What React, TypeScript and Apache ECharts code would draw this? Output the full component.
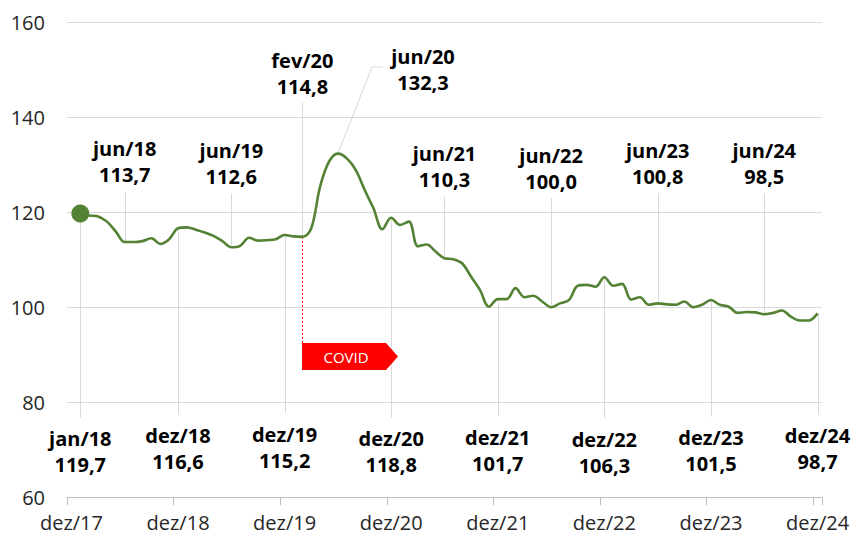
import React, { useEffect, useRef } from "react";
import * as echarts from "echarts";

const MONTHS = ["jan", "fev", "mar", "abr", "mai", "jun", "jul", "ago", "set", "out", "nov", "dez"];
const YEARS = ["18", "19", "20", "21", "22", "23", "24"];
const FIRST_CATEGORY = "dez/17";
const categories: string[] = [FIRST_CATEGORY, ...YEARS.flatMap((y) => MONTHS.map((m) => `${m}/${y}`))];

const values2018 = [119.7, 119.3, 119.1, 118.0, 115.9, 113.7, 113.7, 113.9, 114.5, 113.3, 114.3, 116.6];
const values2019 = [116.8, 116.3, 115.7, 115.0, 113.9, 112.6, 112.9, 114.6, 114.0, 114.1, 114.3, 115.2];
const values2020 = [114.9, 114.8, 116.6, 125.4, 130.6, 132.3, 131.3, 128.9, 124.7, 120.8, 116.4, 118.8];
const values2021 = [117.3, 118.0, 112.8, 113.2, 111.7, 110.3, 110.1, 109.2, 106.4, 103.6, 100.1, 101.7];
const values2022 = [101.7, 104.0, 102.1, 102.4, 101.2, 100.0, 100.8, 101.5, 104.5, 104.7, 104.3, 106.3];
const values2023 = [104.5, 104.9, 101.6, 102.1, 100.5, 100.8, 100.6, 100.5, 101.2, 100.0, 100.5, 101.5];
const values2024 = [100.5, 100.1, 98.8, 99.0, 98.9, 98.5, 98.8, 99.3, 98.0, 97.2, 97.2, 98.7];

const values: number[] = [
  ...values2018, ...values2019, ...values2020, ...values2021, ...values2022, ...values2023, ...values2024,
];

const yTicks = [60, 80, 100, 120, 140, 160];

// annotated months
const annotatedAbove = ["jun/18", "jun/19", "jun/21", "jun/22", "jun/23", "jun/24"];
const annotatedBelow = ["jan/18", "dez/18", "dez/19", "dez/20", "dez/21", "dez/22", "dez/23", "dez/24"];
const covidMonth = "fev/20";
const peakMonth = "jun/20";
const covidText = "COVID";

// layout (pixel centres of label blocks)
const aboveLabelY: Record<string, number> = {
  "jun/18": 161, "jun/19": 163.5, "jun/21": 166.5, "jun/22": 168, "jun/23": 163.5, "jun/24": 163.5,
};
const belowLabelY: Record<string, number> = {
  "jan/18": 451.5, "dez/18": 448.5, "dez/19": 447, "dez/20": 451.5, "dez/21": 450, "dez/22": 452.5, "dez/23": 450.5, "dez/24": 448.5,
};

const GREEN = "#548235";
const GRID_GREY = "#d9d9d9";
const FONT = '"Open Sans", "Noto Sans", sans-serif';

const fmt = (v: number) => v.toFixed(1).replace(".", ",");
const valueOf = (cat: string) => values[categories.indexOf(cat) - 1];

export default function App() {
  const ref = useRef<HTMLDivElement>(null);

  useEffect(() => {
    if (!ref.current) return;
    const chart = echarts.init(ref.current, undefined, { renderer: "svg" });
    const seriesData = [null, ...values];
    chart.setOption({
      animation: false,
      textStyle: { fontFamily: FONT },
      grid: { left: 67, right: 31, top: 22, bottom: 37.7, containLabel: false },
      xAxis: {
        type: "category",
        data: categories,
        boundaryGap: true,
        axisLine: { show: true, lineStyle: { color: "#bfbfbf", width: 1 } },
        axisTick: {
          show: true,
          interval: (i: number) => i % 12 === 0,
          length: 8,
          lineStyle: { color: "#bfbfbf" },
        },
        axisLabel: {
          interval: (i: number) => i % 12 === 0,
          color: "#262626",
          fontSize: 20,
          fontFamily: FONT,
          margin: 15,
        },
        splitLine: { show: false },
      },
      yAxis: {
        type: "value",
        min: yTicks[0],
        max: yTicks[yTicks.length - 1],
        interval: 20,
        axisLine: { show: false },
        axisTick: { show: false },
        axisLabel: { color: "#262626", fontSize: 20, fontFamily: FONT, margin: 22 },
        splitLine: { show: true, lineStyle: { color: GRID_GREY, width: 1 } },
      },
      series: [
        {
          type: "line",
          data: seriesData,
          smooth: 0.35,
          showSymbol: false,
          lineStyle: { color: GREEN, width: 2.6 },
          itemStyle: { color: GREEN },
          z: 3,
        },
        {
          type: "scatter",
          data: [[categories[1], values[0]]],
          symbol: "circle",
          symbolSize: 18,
          itemStyle: { color: GREEN, opacity: 1 },
          z: 4,
        },
      ],
    });

    const px = (cat: string) => chart.convertToPixel({ seriesIndex: 0 }, [cat, valueOf(cat)]) as number[];
    const labelFont = `bold 20px ${FONT}`;
    const graphics: any[] = [];
    const addLabel = (text: string, x: number, y: number) => {
      graphics.push({
        type: "text",
        x, y, z: 10,
        style: {
          text, font: labelFont, fill: "#000",
          align: "center", verticalAlign: "middle",
          textAlign: "center", textVerticalAlign: "middle",
          lineHeight: 26,
        },
      });
    };
    const addLine = (x1: number, y1: number, x2: number, y2: number, stroke = GRID_GREY, dash?: number[]) => {
      const xs = Math.round(x1) + 0.5;
      graphics.push({
        type: "line", z: 1,
        shape: { x1: xs, y1, x2: x1 === x2 ? xs : x2, y2 },
        style: { stroke, lineWidth: 1, lineDash: dash },
      });
    };

    annotatedAbove.forEach((cat) => {
      const [x, y] = px(cat);
      const cy = aboveLabelY[cat];
      addLine(x, cy + 30, x, y);
      addLabel(`${cat}\n${fmt(valueOf(cat))}`, x, cy);
    });
    annotatedBelow.forEach((cat) => {
      const [x, y] = px(cat);
      const cy = belowLabelY[cat];
      addLine(x, y, x, cy - 34);
      addLabel(`${cat}\n${fmt(valueOf(cat))}`, x, cy);
    });

    // COVID marker
    {
      const [x, y] = px(covidMonth);
      const cy = 73.5;
      addLine(x, cy + 29, x, y);
      addLabel(`${covidMonth}\n${fmt(valueOf(covidMonth))}`, x, cy);
      const tagTop = 343;
      const tagBottom = 370;
      addLine(x, y, x, tagTop, "#ff0000", [2, 2]);
      const x0 = Math.round(x);
      graphics.push({
        type: "polygon", z: 5,
        shape: {
          points: [
            [x0, tagTop], [x0 + 84, tagTop], [x0 + 96, (tagTop + tagBottom) / 2],
            [x0 + 84, tagBottom], [x0, tagBottom],
          ],
        },
        style: { fill: "#ff0000" },
      });
      graphics.push({
        type: "text", z: 6,
        x: x0 + 44, y: (tagTop + tagBottom) / 2,
        style: {
          text: covidText, font: `15px ${FONT}`, fill: "#fff",
          align: "center", verticalAlign: "middle",
          textAlign: "center", textVerticalAlign: "middle",
        },
      });
    }

    // peak
    {
      const [x, y] = px(peakMonth);
      const lx = 423;
      const ly = 69;
      graphics.push({
        type: "polyline", z: 1,
        shape: { points: [[x, y], [lx - 51, ly - 2], [lx - 40, ly - 2]] },
        style: { stroke: GRID_GREY, lineWidth: 1, fill: null },
      });
      addLabel(`${peakMonth}\n${fmt(valueOf(peakMonth))}`, lx, ly);
    }

    chart.setOption({ graphic: { elements: graphics } });

    return () => chart.dispose();
  }, []);

  return (
    <div
      ref={ref}
      style={{ position: "fixed", left: 0, top: 0, width: 853, height: 535, background: "#fff" }}
    />
  );
}
